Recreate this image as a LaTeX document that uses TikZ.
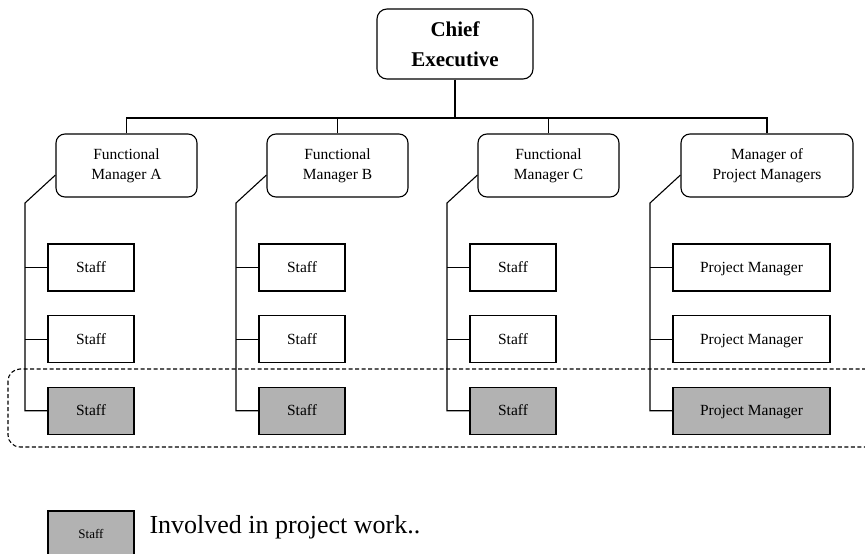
\documentclass[tikz,border=0pt]{standalone}
\usepackage{fontspec}
\setmainfont{Liberation Serif}
\usetikzlibrary{
  positioning
}

\begin{document}
\begin{tikzpicture}[x = 1pt, y = -1pt, line width = 1.1pt, node distance = 23.5pt,
    every node/.style = {inner sep = 0pt},
    boss/.style = {draw, rounded corners = 10pt, minimum width = 156pt, minimum height = 70pt,
      align = center, font = \fontsize{21}{30}\selectfont\bfseries},
    manager/.style = {draw, rounded corners = 9pt, minimum width = 141pt, minimum height = 63pt,
      align = center, font = \fontsize{15.5}{20}\selectfont},
    staff/.style = {draw, fill = white, minimum width = 86pt, minimum height = 47pt,
      text height = 10.5pt, text depth = 0pt, font = \fontsize{15.5}{20}\selectfont},
    involved/.style = {staff, fill = gray!60}]

    \useasboundingbox (0,0) rectangle (865,554);

    % top of the chart
    \node[boss] (ceo) at (455,44) {Chief\\Executive};
    \coordinate (bus) at (455,118);

    \node[manager] (fmA) at (126.5,165.5) {Functional\\Manager A};
    \node[manager] (fmB) at (337.5,165.5) {Functional\\Manager B};
    \node[manager] (fmC) at (548.5,165.5) {Functional\\Manager C};
    \node[manager, minimum width = 172pt] (mpm) at (767,165.5) {Manager of\\Project Managers};

    % staff columns
    \node[staff] (A1) at (91,267.5) {Staff};
    \node[staff, below = of A1] (A2) {Staff};
    \node[involved, below = of A2] (A3) {Staff};

    \node[staff] (B1) at (302,267.5) {Staff};
    \node[staff, below = of B1] (B2) {Staff};
    \node[involved, below = of B2] (B3) {Staff};

    \node[staff] (C1) at (513,267.5) {Staff};
    \node[staff, below = of C1] (C2) {Staff};
    \node[involved, below = of C2] (C3) {Staff};

    \node[staff, minimum width = 157pt] (D1) at (751.5,267.5) {Project Manager};
    \node[staff, minimum width = 157pt, below = of D1] (D2) {Project Manager};
    \node[involved, minimum width = 157pt, below = of D2] (D3) {Project Manager};

    \coordinate (tA) at (25,203);
    \coordinate (tB) at (236,203);
    \coordinate (tC) at (447,203);
    \coordinate (tD) at (650,203);

    % reporting lines
    \draw (ceo.south) -- (bus);
    \draw (fmA.north) |- (mpm.north |- bus) -- (mpm.north);
    \draw (fmB.north) -- (fmB.north |- bus);
    \draw (fmC.north) -- (fmC.north |- bus);

    \draw ([yshift = -9.5pt]fmA.west) -- (tA) |- (A3.west);
    \draw (tA |- A1.west) -- (A1.west);
    \draw (tA |- A2.west) -- (A2.west);

    \draw ([yshift = -9.5pt]fmB.west) -- (tB) |- (B3.west);
    \draw (tB |- B1.west) -- (B1.west);
    \draw (tB |- B2.west) -- (B2.west);

    \draw ([yshift = -9.5pt]fmC.west) -- (tC) |- (C3.west);
    \draw (tC |- C1.west) -- (C1.west);
    \draw (tC |- C2.west) -- (C2.west);

    \draw ([yshift = -9.5pt]mpm.west) -- (tD) |- (D3.west);
    \draw (tD |- D1.west) -- (D1.west);
    \draw (tD |- D2.west) -- (D2.west);

    % project team
    \draw[dashed, dash pattern = on 4pt off 2.5pt, rounded corners = 12pt] (8,369) rectangle (880,447);

    % legend
    \node[involved, font = \fontsize{13}{16}\selectfont, text height = 8.8pt] (key) at (91,534.5) {Staff};
    \node[anchor = base west, font = \fontsize{26}{30}\selectfont] (keytext) at (149,533) {Involved in project work..};
  \end{tikzpicture}
\end{document}
